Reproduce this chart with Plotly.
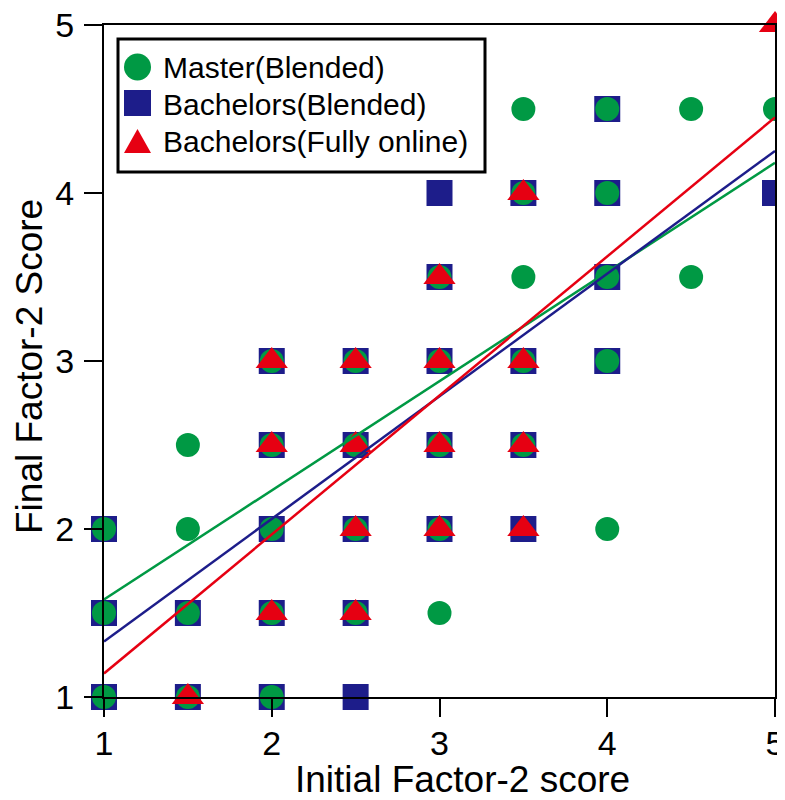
import plotly.graph_objects as go

# ---- data ----
master_x = [1, 1.5, 2,
            1, 1.5, 2, 2.5, 3,
            1, 1.5, 2, 2.5, 3, 4,
            1.5, 2, 2.5, 3, 3.5,
            2, 2.5, 3, 3.5, 4,
            3, 3.5, 4, 4.5,
            3.5, 4,
            3.5, 4, 4.5, 5]
master_y = [1, 1, 1,
            1.5, 1.5, 1.5, 1.5, 1.5,
            2, 2, 2, 2, 2, 2,
            2.5, 2.5, 2.5, 2.5, 2.5,
            3, 3, 3, 3, 3,
            3.5, 3.5, 3.5, 3.5,
            4, 4,
            4.5, 4.5, 4.5, 4.5]

bach_x = [1, 1.5, 2, 2.5,
          1, 1.5, 2, 2.5,
          1, 2, 2.5, 3, 3.5,
          2, 2.5, 3, 3.5,
          2, 2.5, 3, 3.5, 4,
          3, 4,
          3, 3.5, 4, 5,
          4]
bach_y = [1, 1, 1, 1,
          1.5, 1.5, 1.5, 1.5,
          2, 2, 2, 2, 2,
          2.5, 2.5, 2.5, 2.5,
          3, 3, 3, 3, 3,
          3.5, 3.5,
          4, 4, 4, 4,
          4.5]

online_x = [1.5,
            2, 2.5,
            2.5, 3, 3.5,
            2, 2.5, 3, 3.5,
            2, 2.5, 3, 3.5,
            3,
            3.5,
            5]
online_y = [1,
            1.5, 1.5,
            2, 2, 2,
            2.5, 2.5, 2.5, 2.5,
            3, 3, 3, 3,
            3.5,
            4,
            5]

fit_x = [1, 5]
master_fit = [1.58, 4.18]
bach_fit = [1.33, 4.25]
online_fit = [1.14, 4.45]

tick_vals = [1, 2, 3, 4, 5]
series_names = ["Master(Blended)", "Bachelors(Blended)", "Bachelors(Fully online)"]
x_title = "Initial Factor-2 score"
y_title = "Final Factor-2 Score"

GREEN = "#009944"
BLUE = "#1d1d8a"
RED = "#e60012"
FONT = "Liberation Sans, Arial, sans-serif"

# page body has an 8px margin, so the figure is sized to fit the 785x800 window
W, H = 777, 792
ML, MR, MT, MB = 96, 10, 17, 103
PW, PH = W - ML - MR, H - MT - MB
# plot area in window pixels
SX0, SY1 = ML + 8, MT + 8 + PH


def px(x):
    return (x - SX0) / PW


def py(y):
    return (SY1 - y) / PH


fig = go.Figure()

fig.add_trace(go.Scatter(x=bach_x, y=bach_y, mode="markers", name=series_names[1],
                         showlegend=False, cliponaxis=False,
                         marker=dict(symbol="square", size=26, color=BLUE)))
fig.add_trace(go.Scatter(x=master_x, y=master_y, mode="markers", name=series_names[0],
                         showlegend=False, cliponaxis=False,
                         marker=dict(symbol="circle", size=24, color=GREEN)))
fig.add_trace(go.Scatter(x=online_x, y=online_y, mode="markers", name=series_names[2],
                         showlegend=False, cliponaxis=False,
                         marker=dict(symbol="triangle-up", size=28, color=RED)))

for ys, c in [(master_fit, GREEN), (bach_fit, BLUE), (online_fit, RED)]:
    fig.add_trace(go.Scatter(x=fit_x, y=ys, mode="lines", showlegend=False,
                             hoverinfo="skip", line=dict(color=c, width=2.5)))

# ---- custom legend (big symbols like the original) ----
shapes = [
    dict(type="rect", xref="paper", yref="paper",
         x0=px(118), x1=px(485), y0=py(172), y1=py(39),
         line=dict(color="black", width=3), fillcolor="white", layer="above"),
    dict(type="circle", xref="paper", yref="paper",
         x0=px(124), x1=px(151), y0=py(80.5), y1=py(53.5),
         line=dict(width=0), fillcolor=GREEN, layer="above"),
    dict(type="rect", xref="paper", yref="paper",
         x0=px(124), x1=px(151), y0=py(116), y1=py(90),
         line=dict(width=0), fillcolor=BLUE, layer="above"),
    dict(type="path", xref="paper", yref="paper",
         path="M {} {} L {} {} L {} {} Z".format(px(124), py(153), px(151), py(153),
                                                  px(137.5), py(129)),
         line=dict(width=0), fillcolor=RED, layer="above"),
]
row_y = [67, 104, 141]
annotations = [
    dict(text=series_names[i], xref="paper", yref="paper", x=px(161), y=py(row_y[i]),
         xanchor="left", yanchor="middle", showarrow=False,
         font=dict(family=FONT, size=30, color="black"))
    for i in range(3)
]
# axis titles (placed like in the original, x title sits right of centre)
annotations.append(dict(text=x_title, xref="paper", yref="paper", x=px(462), y=py(780),
                        xanchor="center", yanchor="middle", showarrow=False,
                        font=dict(family=FONT, size=37, color="black")))
annotations.append(dict(text=y_title, xref="paper", yref="paper", x=px(29), y=py(367),
                        xanchor="center", yanchor="middle", showarrow=False, textangle=-90,
                        font=dict(family=FONT, size=37, color="black")))

axis_common = dict(
    tickvals=tick_vals, ticks="outside", ticklen=18, tickwidth=2, tickcolor="black",
    showline=True, linewidth=2, linecolor="black", mirror=True,
    showgrid=False, zeroline=False, automargin=False, ticklabeloverflow="allow",
    tickfont=dict(family=FONT, size=34, color="black"),
)

fig.update_layout(
    width=W, height=H,
    margin=dict(l=ML, r=MR, t=MT, b=MB),
    paper_bgcolor="white", plot_bgcolor="white",
    font=dict(family=FONT, color="black"),
    xaxis=dict(range=[1, 5], ticklabelstandoff=-3, **axis_common),
    yaxis=dict(range=[1, 5], ticklabelstandoff=3, **axis_common),
    shapes=shapes,
    annotations=annotations,
    showlegend=False,
)

fig.write_html("out.html")
